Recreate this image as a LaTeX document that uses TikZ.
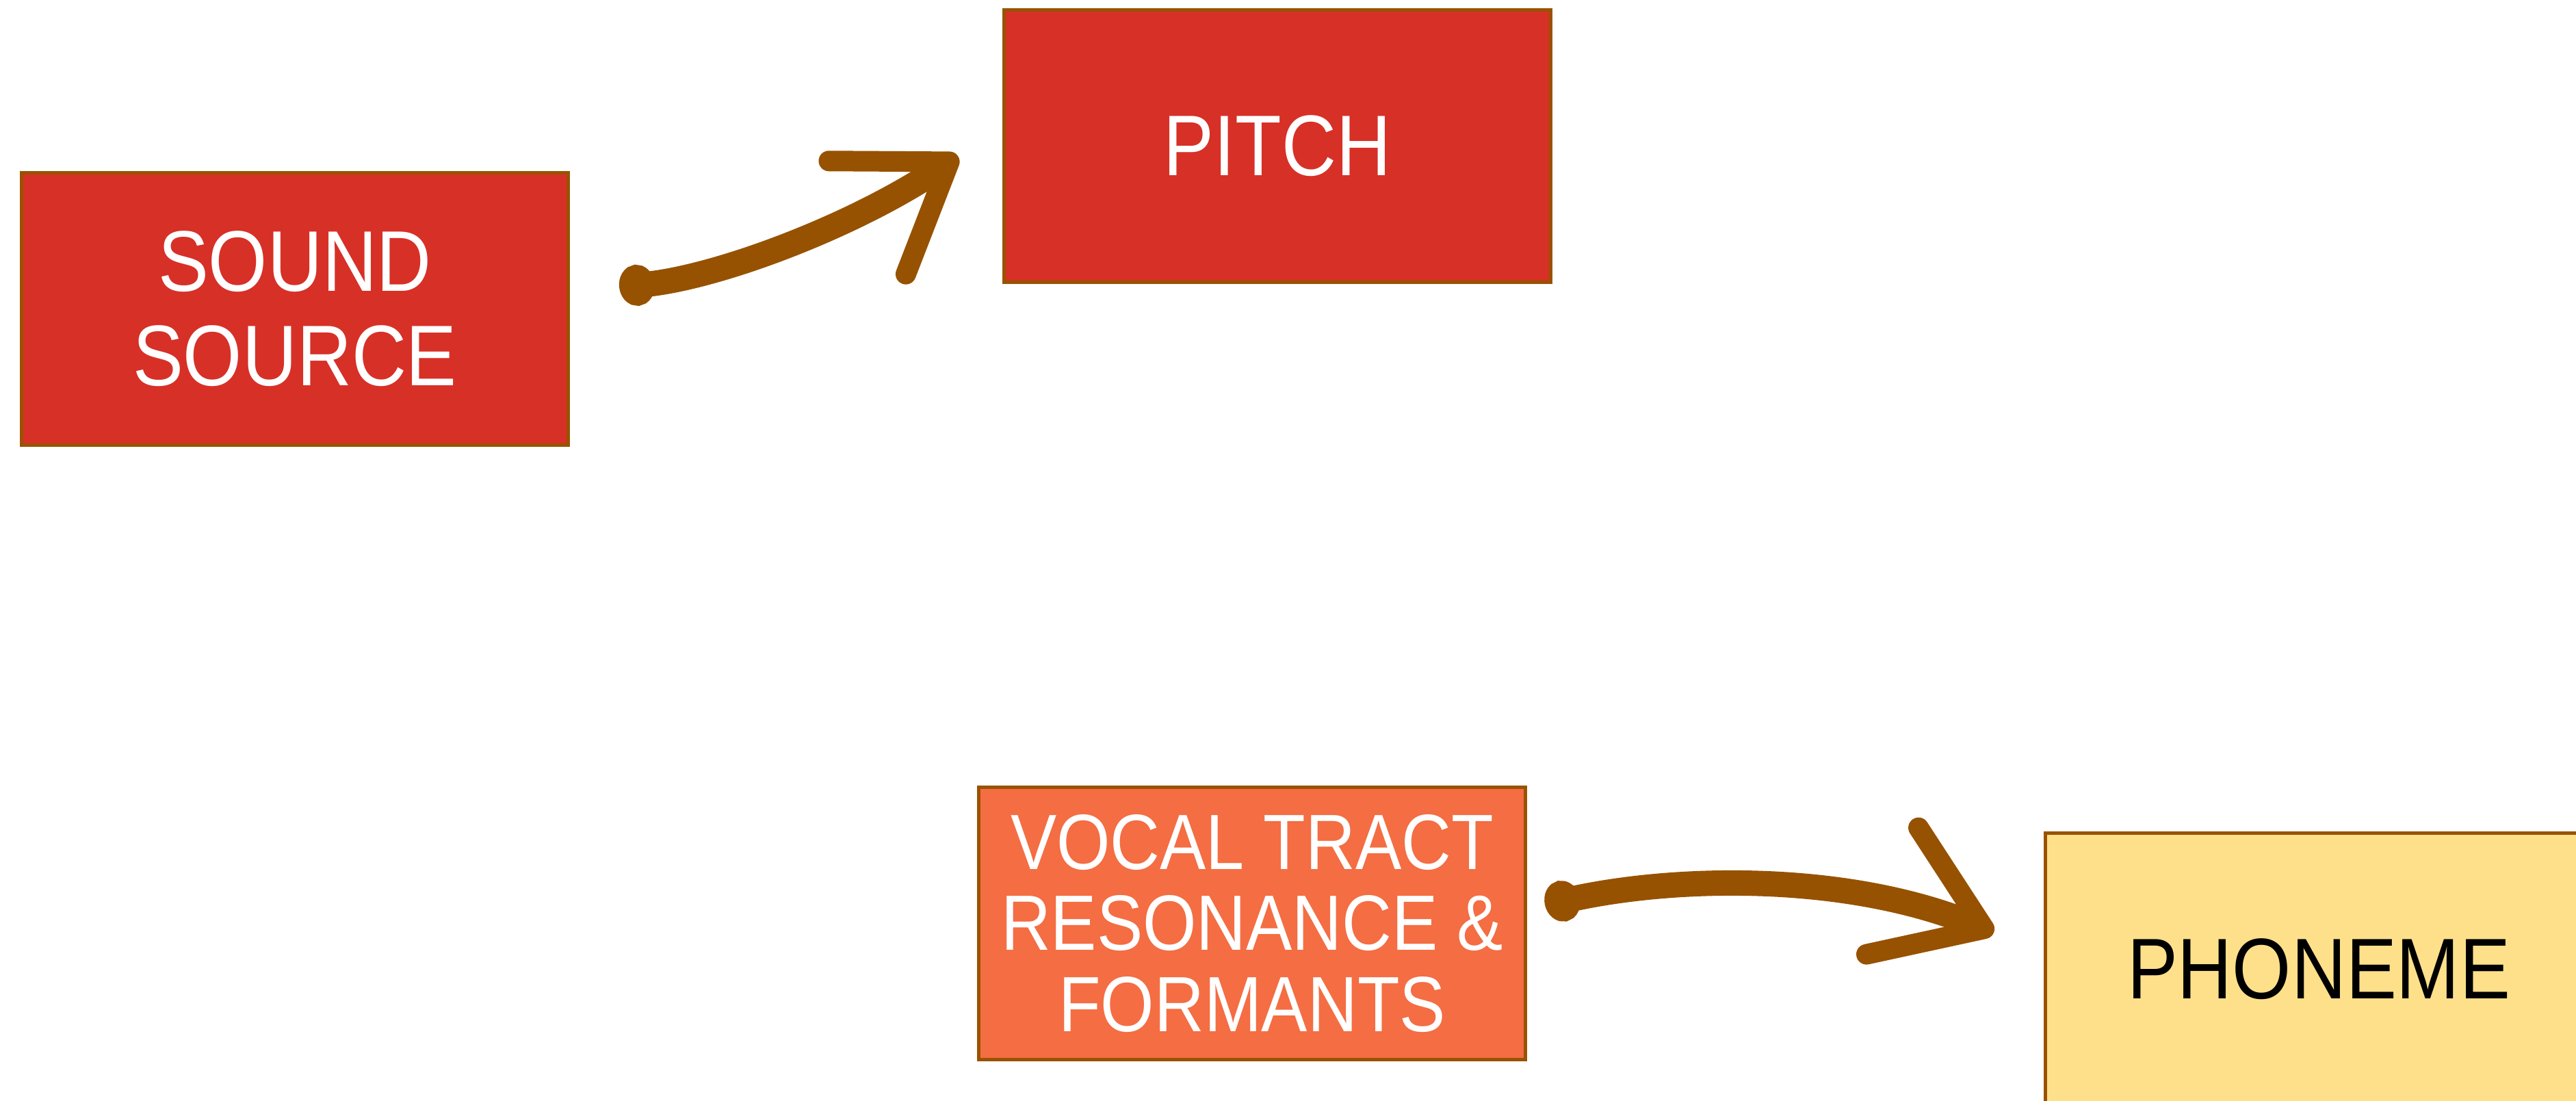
\documentclass[tikz,border=0pt]{standalone}
\usepackage{fontspec}
\newfontfamily\hand[FakeStretch=0.88]{Liberation Sans}
\usetikzlibrary{arrows.meta}
\definecolor{boxred}{HTML}{D73027}
\definecolor{boxorange}{HTML}{F46D43}
\definecolor{boxyellow}{HTML}{FEE08B}
\definecolor{edgebrown}{HTML}{995200}
\definecolor{arrowbrown}{HTML}{965200}
\tikzset{
  card/.style={rectangle, draw=edgebrown, line width=0.05cm, inner sep=0pt,
    minimum width=7.99cm, minimum height=3.98cm, align=center},
  bigtext/.style={font={\hand\fontsize{35.8}{39.3}\selectfont}},
  midtext/.style={font={\hand\fontsize{32.6}{33.6}\selectfont}},
  brush/.style={draw=arrowbrown, line width=0.37cm, line cap=round,
    arrows={Circle[length=0.52cm,width=0.6cm]-Straight Barb[length=1.45cm,width=2.0cm,line width=0.3cm,round]}}
}
\begin{document}
\begin{tikzpicture}
\useasboundingbox (0,0) rectangle (37.65,-16.09);
\node[card, fill=boxred, text=white, bigtext] (ss) at (4.31,-4.515) {SOUND\\SOURCE};
\node[card, fill=boxred, text=white, bigtext] (pitch) at (18.67,-2.135) {PITCH};
\node[card, fill=boxorange, text=white, midtext] (vt) at (18.30,-13.495) {VOCAL TRACT\\RESONANCE \&\\FORMANTS};
\node[card, fill=boxyellow, text=black, bigtext] (ph) at (33.89,-14.165) {PHONEME};
\coordinate (a1s) at ([xshift=0.72cm,yshift=0.32cm]ss.east);
\coordinate (a1e) at ([xshift=-0.65cm,yshift=-0.145cm]pitch.west);
\coordinate (a2s) at ([xshift=0.26cm,yshift=0.27cm]vt.east);
\coordinate (a2e) at ([xshift=-0.73cm,yshift=0.535cm]ph.west);
\draw[brush] (a1s) .. controls (10.5,-4.05) and (12.5,-3.3) .. (a1e);
\draw[brush] (a2s) .. controls (24.5,-12.8) and (27.0,-12.75) .. (a2e);
\end{tikzpicture}
\end{document}
